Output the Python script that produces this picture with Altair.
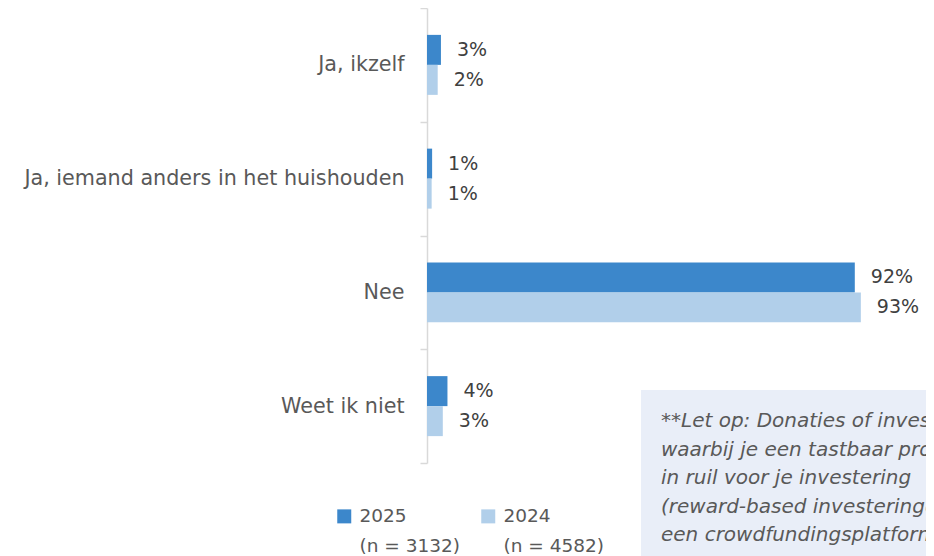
import altair as alt
import pandas as pd

categories = ["Ja, ikzelf", "Ja, iemand anders in het huishouden", "Nee", "Weet ik niet"]
years = ["2025", "2024"]
sample_sizes = ["(n = 3132)", "(n = 4582)"]
values_2025 = [3.0, 1.1, 92.0, 4.4]
values_2024 = [2.3, 1.0, 93.3, 3.4]
colors = ["#3C87CB", "#B1CFEA"]
note_lines = [
    "**Let op: Donaties of investeringen",
    "waarbij je een tastbaar product krijgt",
    "in ruil voor je investering",
    "(reward-based investeringen) via",
    "een crowdfundingsplatform tellen niet mee",
]

rows = []
for c, a, b in zip(categories, values_2025, values_2024):
    rows.append({"category": c, "year": years[0], "value": a})
    rows.append({"category": c, "year": years[1], "value": b})
df = pd.DataFrame(rows)

label_expr = (
    f"datum.label == '{years[0]}' ? ['{years[0]}', '{sample_sizes[0]}'] : "
    f"['{years[1]}', '{sample_sizes[1]}']"
)

FONT = "DejaVu Sans"

base = alt.Chart(df).encode(
    y=alt.Y(
        "category:N",
        sort=categories,
        scale=alt.Scale(paddingInner=0, paddingOuter=0),
        axis=alt.Axis(
            title=None,
            tickBand="extent",
            domainColor="#D9D9D9",
            tickColor="#D9D9D9",
            domainWidth=1.5,
            tickWidth=1.5,
            tickSize=7,
            labelFontSize=20.7,
            labelColor="#595959",
            labelFont=FONT,
            labelPadding=16,
            labelLimit=600,
            grid=False,
        ),
    ),
    yOffset=alt.YOffset(
        "year:N", sort=years, scale=alt.Scale(paddingInner=0, paddingOuter=0.896)
    ),
    x=alt.X("value:Q", scale=alt.Scale(domain=[0, 100]), axis=None),
)

bars = base.mark_bar().encode(
    color=alt.Color(
        "year:N",
        sort=years,
        scale=alt.Scale(domain=years, range=colors),
        legend=alt.Legend(
            title=None,
            orient="none",
            legendX=-92,
            legendY=499,
            direction="horizontal",
            symbolType="square",
            symbolSize=196,
            symbolStrokeWidth=0,
            labelFontSize=18.5,
            labelFont=FONT,
            labelColor="#595959",
            labelOffset=6,
            labelLimit=400,
            columnPadding=18,
            labelExpr=label_expr,
        ),
    )
)

labels = base.transform_calculate(
    label="format(datum.value, '.0f') + '%'"
).mark_text(
    align="left", baseline="middle", dx=16, fontSize=19, color="#404040", font=FONT
).encode(text="label:N")

note_df = pd.DataFrame({"note": ["\n".join(note_lines)]})
note_box = alt.Chart(note_df).mark_rect(color="#E9EEF8").encode(
    x=alt.value(214), x2=alt.value(700), y=alt.value(382), y2=alt.value(700)
)
note_text = alt.Chart(note_df).mark_text(
    align="left",
    baseline="top",
    fontSize=20,
    fontStyle="italic",
    font=FONT,
    color="#595959",
    lineBreak="\n",
    lineHeight=28.5,
).encode(x=alt.value(234), y=alt.value(403), text="note:N")

chart = (
    alt.layer(bars, labels, note_box, note_text)
    .properties(
        width=465,
        height=455,
        autosize=alt.AutoSizeParams(type="none"),
        padding={"left": 419, "top": 0, "right": 34, "bottom": 93},
    )
    .configure(
        view=alt.ViewConfig(stroke=None),
        style={"guide-label": {"lineHeight": 30}},
    )
)

chart.save("out.html", embed_options={"renderer": "svg", "actions": False})
